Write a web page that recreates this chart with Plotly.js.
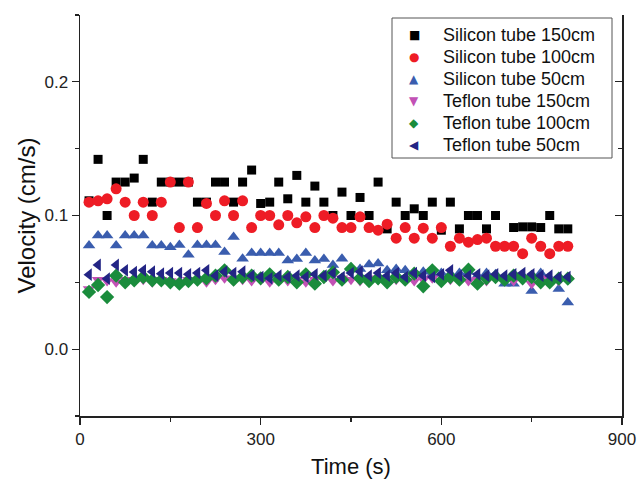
<!DOCTYPE html>
<html>
<head>
<meta charset="utf-8">
<script src="https://cdn.plot.ly/plotly-3.0.1.min.js"></script>
<style>html,body{margin:0;padding:0;background:#fff;}#chart{width:638px;height:481px;}</style>
</head>
<body>
<div id="chart"></div>
<script>
var timeS = [15,30,45,60,75,90,105,120,135,150,165,180,195,210,225,240,255,270,285,300,315,330,345,360,375,390,405,420,435,450,465,480,495,510,525,540,555,570,585,600,615,630,645,660,675,690,705,720,735,750,765,780,795,810];

var silicon150 = [0.111,0.142,0.100,0.125,0.125,0.128,0.142,0.110,0.125,0.125,0.125,0.125,0.110,0.110,0.125,0.125,0.110,0.125,0.134,0.109,0.110,0.125,0.1125,0.130,0.110,0.122,0.110,0.100,0.1175,0.100,0.1135,0.100,0.125,0.090,0.110,0.100,0.105,0.100,0.110,0.089,0.110,0.090,0.100,0.100,0.090,0.100,null,0.091,0.0915,0.0915,0.091,0.100,0.090,0.090];

var silicon100 = [0.110,0.111,0.1125,0.120,0.110,0.100,0.110,0.100,0.110,0.125,0.091,0.125,0.091,0.109,0.100,0.111,0.100,0.111,0.091,0.100,0.100,0.093,0.100,0.0945,0.099,0.091,0.100,0.098,0.091,0.091,0.099,0.091,0.089,0.0935,0.083,0.091,0.083,0.0905,0.083,0.091,0.077,0.083,0.080,0.082,0.083,0.077,0.077,0.077,0.0714,0.083,0.077,0.0714,0.077,0.077];

var silicon50 = [0.0776,0.085,0.085,0.0776,0.085,0.085,0.085,0.0776,0.0776,0.0763,0.078,0.0707,0.078,0.078,0.078,0.0726,0.084,0.0677,0.072,0.072,0.072,0.072,0.0664,0.0675,0.072,0.0664,0.0675,0.063,0.0677,0.061,0.060,0.0634,0.064,0.059,0.060,0.059,0.057,0.058,0.056,0.057,0.0565,0.057,0.058,0.055,0.057,0.056,0.049,0.049,0.055,0.0435,0.057,0.053,0.045,0.035];

var teflon150 = [0.045,0.052,0.051,0.050,0.052,0.051,0.052,0.050,0.052,0.051,0.050,0.052,0.051,0.050,0.052,0.053,0.051,0.052,0.051,0.052,0.050,0.052,0.051,0.052,0.050,0.052,0.053,0.051,0.053,0.052,0.051,0.053,0.052,0.051,0.052,0.053,0.051,0.052,0.053,0.051,0.052,0.053,0.051,0.052,0.051,0.053,0.052,0.051,0.052,0.049,0.053,0.052,0.051,0.052];

var teflon100 = [0.0428,0.048,0.039,0.055,0.050,0.0515,0.054,0.0515,0.0515,0.050,0.049,0.051,0.052,0.053,0.055,0.059,0.052,0.054,0.055,0.053,0.056,0.052,0.054,0.050,0.056,0.049,0.054,0.0575,0.052,0.060,0.053,0.051,0.053,0.050,0.054,0.052,0.0565,0.047,0.059,0.051,0.054,0.052,0.0595,0.049,0.053,0.054,0.052,0.055,0.053,0.054,0.050,0.050,0.0527,0.0527];

var teflon50 = [0.0557,0.063,0.0527,0.063,0.059,0.0577,0.059,0.058,0.0565,0.057,0.057,0.056,0.057,0.059,0.055,0.058,0.057,0.058,0.055,0.054,0.053,0.055,0.054,0.055,0.054,0.056,0.055,0.057,0.054,0.057,0.058,0.055,0.057,0.055,0.057,0.054,0.057,0.055,0.054,0.056,0.059,0.055,0.055,0.056,0.055,0.056,0.055,0.056,0.057,0.056,0.055,0.055,0.054,0.054];

var seriesNames = ["Silicon tube 150cm","Silicon tube 100cm","Silicon tube 50cm","Teflon tube 150cm","Teflon tube 100cm","Teflon tube 50cm"];
var legendGlyphs = ["\u25A0","\u25CF","\u25B2","\u25BC","\u25C6","\u25C0"];
var seriesData = [silicon150, silicon100, silicon50, teflon150, teflon100, teflon50];
var symbols = ["square","circle","triangle-up","triangle-down","diamond","triangle-left"];
var colors = ["#000000","#ee1c25","#3a5dae","#c251b5","#1a8c3c","#232585"];
var sizes = [9,11,11,11,11,11];

var W = 638, H = 481, ML = 80, MR = 16, MT = 15, MB = 65;
var PW = W - ML - MR, PH = H - MT - MB;
function px2x(px){ return (px - ML) / PW; }
function py2y(py){ return (H - MB - py) / PH; }

var traces = seriesData.map(function(d,i){
  return {
    type:"scatter", mode:"markers", name:seriesNames[i],
    x: timeS, y: d,
    marker:{symbol:symbols[i], color:colors[i], size:sizes[i], line:{width:0}},
    cliponaxis:false, showlegend:false
  };
});
traces.push({type:"scatter", mode:"markers", x:[], y:[], yaxis:"y2", showlegend:false, hoverinfo:"skip"});

// hand-built legend (box, glyph, label)
var annotations = [];
seriesNames.forEach(function(n,i){
  var py = 35 + 22*i;
  annotations.push({xref:"paper", yref:"paper", x:px2x(441), y:py2y(py), xanchor:"left", yanchor:"middle",
    text:n, showarrow:false, font:{family:"Liberation Sans, Arial, sans-serif", size:18, color:"#111"}});
  annotations.push({xref:"paper", yref:"paper", x:px2x(414), y:py2y(py), xanchor:"center", yanchor:"middle",
    text:legendGlyphs[i], showarrow:false, font:{family:"DejaVu Sans, sans-serif", size:12, color:colors[i]}});
});
var shapes = [{type:"rect", xref:"paper", yref:"paper", x0:px2x(392), x1:px2x(612), y0:py2y(158), y1:py2y(18),
  line:{color:"#555", width:1}, fillcolor:"#fff", layer:"below"}];

var axisFont = {family:"Liberation Sans, Arial, sans-serif", size:17, color:"#222"};
var layout = {
  width:W, height:H,
  margin:{l:ML, r:MR, t:MT, b:MB},
  paper_bgcolor:"#fff", plot_bgcolor:"#fff",
  font:{family:"Liberation Sans, Arial, sans-serif", color:"#222"},
  showlegend:false,
  annotations:annotations, shapes:shapes,
  xaxis:{range:[0,900], tick0:0, dtick:300, ticks:"outside", ticklen:7, tickwidth:1.3, tickcolor:"#222",
         showline:true, linecolor:"#222", linewidth:1.5, showgrid:false, zeroline:false,
         minor:{dtick:150, ticks:"outside", ticklen:4, tickwidth:1.3, tickcolor:"#222", showgrid:false},
         tickfont:axisFont,
         title:{text:"Time (s)", font:{family:"Liberation Sans, Arial, sans-serif", size:22, color:"#111"}, standoff:10}},
  yaxis:{range:[-0.05,0.25], tick0:0, dtick:0.1, tickformat:".1f", ticks:"outside", ticklen:7, tickwidth:1.3, tickcolor:"#222",
         showline:true, linecolor:"#222", linewidth:1.5, showgrid:false, zeroline:false,
         minor:{dtick:0.05, ticks:"outside", ticklen:4, tickwidth:1.3, tickcolor:"#222", showgrid:false},
         tickfont:axisFont,
         title:{text:"Velocity (cm/s)", font:{family:"Liberation Sans, Arial, sans-serif", size:24, color:"#111"}, standoff:2}},
  yaxis2:{overlaying:"y", side:"right", range:[-0.05,0.25], tick0:0, dtick:0.1, ticks:"inside", ticklen:7, tickwidth:1.3, tickcolor:"#222",
          showline:true, linecolor:"#222", linewidth:1.5, showgrid:false, zeroline:false, showticklabels:false,
          minor:{dtick:0.05, ticks:"inside", ticklen:4, tickwidth:1.3, tickcolor:"#222", showgrid:false}}
};
Plotly.newPlot("chart", traces, layout, {displayModeBar:false, staticPlot:true});
</script>
</body>
</html>
